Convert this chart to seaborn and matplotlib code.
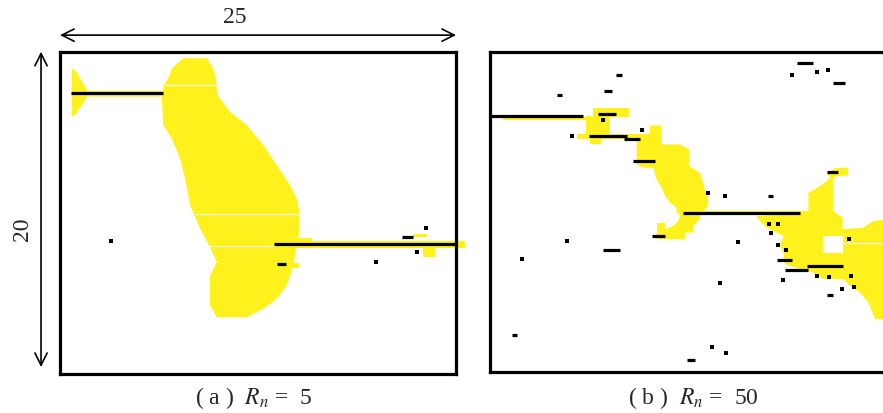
import numpy as np
import pandas as pd
import matplotlib
matplotlib.use("Agg")
import matplotlib.pyplot as plt
import seaborn as sns

# ---------------- data (domain 25 x 20) ----------------
domain_w = 25
domain_h = 20
captions = [r"( a )  $R_n$ =  5", r"( b )  $R_n$ =  50"]

# Panel (a): yellow regions (polygon vertices x, y)
a_blob_x = [7.77, 9.28, 9.66, 9.85, 9.93, 10.73, 11.78, 12.84, 13.68, 14.52, 14.94, 15.11, 15.11,
            14.94, 14.73, 14.31, 13.68, 12.84, 11.78, 9.89, 9.47, 9.47, 9.89, 9.47, 8.84,
            8.21, 7.89, 7.58, 7.05, 6.52, 6.42, 6.55, 6.82, 7.07]
a_blob_y = [19.60, 19.60, 18.97, 18.35, 17.31, 16.27, 15.44, 14.20, 12.95, 11.70, 10.87, 10.04, 8.79,
            7.96, 6.72, 5.47, 4.64, 4.02, 3.50, 3.50, 4.23, 6.09, 6.93, 7.86, 9.01,
            10.46, 12.12, 13.36, 14.61, 15.44, 17.10, 17.90, 18.35, 18.97]
a_wedge_x = [0.74, 0.95, 1.26, 1.58, 1.73, 6.52, 6.52, 1.73, 1.58, 1.26, 0.95, 0.74]
a_wedge_y = [18.91, 18.87, 18.35, 17.83, 17.56, 17.56, 17.21, 17.21, 17.00, 16.48, 16.07, 15.96]
# yellow rectangles (x0, x1, y0, y1)
a_rects = [(13.53, 25.57, 7.80, 8.21), (14.94, 15.89, 8.17, 8.42), (22.31, 23.15, 8.50, 8.65),
           (22.94, 23.67, 7.24, 7.86), (14.35, 15.11, 6.55, 6.89)]
# white gaps across blob (x0, x1, y)
a_gaps = [(6.67, 9.89, 17.93), (8.52, 15.11, 9.94), (9.47, 13.53, 7.93)]
# black segments (x0, x1, y)
a_seg_x0 = [0.67, 13.53, 21.57, 13.72]
a_seg_x1 = [6.48, 24.94, 22.31, 14.27]
a_seg_y = [17.42, 8.03, 8.50, 6.82]
a_dot_x = [23.09, 22.52, 19.93, 3.22]
a_dot_y = [9.04, 7.55, 6.91, 8.21]

# Panel (b)
b_blob1_x = [9.26, 9.26, 9.68, 10.31, 10.52, 10.84, 11.05, 11.36, 11.78, 11.78, 11.99, 11.89,
             11.57, 11.05, 10.52, 10.52, 12.31, 12.31, 12.84, 12.84, 13.26, 13.26, 13.78, 13.78,
             13.57, 13.26, 12.58, 12.58, 11.99, 10.84, 10.84, 10.10, 10.10, 9.26]
b_blob1_y = [14.52, 12.96, 12.75, 12.75, 12.02, 11.51, 10.99, 10.57, 10.26, 9.95, 9.78, 9.43,
             9.12, 8.91, 8.70, 8.29, 8.29, 8.70, 8.70, 9.12, 9.53, 9.84, 10.36, 10.99,
             11.40, 12.44, 12.86, 13.89, 14.21, 14.21, 15.39, 15.39, 14.93, 14.72]
b_blob2_x = [16.84, 20.10, 20.10, 20.83, 21.36, 21.67, 21.67, 21.67, 22.26, 22.26, 23.57, 24.20,
             25.0, 25.0, 24.31, 23.88, 23.36, 22.73, 22.31, 21.04, 20.41, 19.57, 18.62, 18.52,
             18.31, 18.52, 17.89, 17.47, 17.15, 16.84]
b_blob2_y = [9.74, 9.95, 11.19, 11.61, 12.02, 12.27, 11.61, 10.05, 9.64, 8.91, 9.01, 9.43,
             9.53, 3.30, 3.30, 4.34, 4.96, 5.38, 5.79, 5.79, 6.21, 6.42, 6.73, 7.46,
             7.87, 8.49, 8.81, 9.01, 9.33, 9.64]
b_hook_x = [21.25, 21.78, 22.62, 22.62, 21.88, 21.67]
b_hook_y = [12.34, 12.75, 12.75, 12.27, 12.23, 12.02]
b_rects = [(0.84, 6.52, 15.72, 15.94), (6.52, 8.80, 15.93, 16.49), (6.06, 7.58, 14.83, 15.97),
           (5.47, 9.89, 14.52, 14.89), (6.31, 6.99, 14.21, 14.52), (12.21, 20.20, 9.78, 10.05),
           (10.42, 11.05, 13.05, 13.20), (10.52, 11.05, 8.29, 9.30)]
b_holes = [(21.04, 22.31, 7.46, 8.49)]
b_gaps = [(22.31, 25.0, 8.04)]
b_seg_x0 = [0.0, 6.84, 6.23, 8.46, 9.01, 12.21, 10.25, 7.15, 21.25, 18.10, 18.62, 19.99,
            19.36, 21.63, 7.95, 7.20, 4.21, 12.42, 1.37, 17.57, 21.25]
b_seg_x1 = [5.85, 7.95, 8.63, 9.47, 10.42, 19.57, 11.05, 8.21, 21.99, 19.04, 20.10, 22.31,
            20.37, 22.41, 8.31, 7.68, 4.52, 12.94, 1.73, 17.89, 21.63]
b_seg_y = [15.97, 16.10, 14.75, 14.58, 13.17, 9.95, 8.52, 7.64, 12.50, 6.98, 6.38, 6.63,
           19.27, 18.05, 18.53, 17.57, 17.30, 0.75, 2.31, 10.99, 4.80]
b_dot_x = [19.04, 20.66, 21.32, 13.74, 14.84, 17.63, 18.16, 17.72, 18.20, 18.69, 22.68, 20.62,
           21.42, 22.77, 22.24, 23.00, 18.52, 14.52, 15.64, 4.86, 2.00, 13.99, 14.90, 7.15,
           5.20, 9.57]
b_dot_y = [18.57, 18.75, 18.84, 11.15, 10.99, 9.24, 9.24, 8.70, 7.93, 7.60, 8.29, 6.00,
           5.94, 6.00, 5.21, 5.32, 5.75, 5.55, 8.10, 8.17, 7.08, 1.54, 1.20, 15.74,
           14.75, 15.14]

YELLOW = "#fff21c"

# ---------------- drawing ----------------
sns.set_style("white")
plt.rcParams["font.family"] = ["Liberation Serif", "DejaVu Serif"]
plt.rcParams["mathtext.fontset"] = "stix"

fig = plt.figure(figsize=(8.83, 4.14), dpi=100)
ax_a = fig.add_axes([0.0680, 0.0954, 0.4485, 0.7773])
ax_b = fig.add_axes([0.5549, 0.0990, 0.4485, 0.7737])


def setup(ax):
    ax.set_xlim(0, domain_w)
    ax.set_ylim(0, domain_h)
    ax.set_xticks([])
    ax.set_yticks([])
    for s in ax.spines.values():
        s.set_visible(True)
        s.set_color("black")
        s.set_linewidth(2.3)
        s.set_zorder(10)


def draw_rects(ax, rects, color):
    for x0, x1, y0, y1 in rects:
        ax.fill([x0, x1, x1, x0], [y0, y0, y1, y1], color=color, lw=0, clip_on=False)


def draw_segments(ax, x0, x1, y):
    df = pd.DataFrame({"x0": x0, "x1": x1, "y": y})
    ax.hlines(df["y"], df["x0"], df["x1"], color="black", lw=2.3, zorder=5)


def draw_dots(ax, x, y):
    df = pd.DataFrame({"x": x, "y": y})
    sns.scatterplot(data=df, x="x", y="y", ax=ax, marker="s", s=9, color="black",
                    linewidth=0, zorder=6, legend=False)


# panel (a)
setup(ax_a)
ax_a.fill(a_blob_x, a_blob_y, color=YELLOW, lw=0)
ax_a.fill(a_wedge_x, a_wedge_y, color=YELLOW, lw=0)
draw_rects(ax_a, a_rects, YELLOW)
for x0, x1, y in a_gaps:
    ax_a.hlines(y, x0, x1, color="white", lw=0.8, zorder=3)
draw_segments(ax_a, a_seg_x0, a_seg_x1, a_seg_y)
draw_dots(ax_a, a_dot_x, a_dot_y)
ax_a.set_xlabel("")
ax_a.set_ylabel("")

# dimension arrows
ax_a.annotate("", xy=(0.0, 21.03), xytext=(domain_w, 21.03),
              arrowprops=dict(arrowstyle="<->", lw=1.2, color="black",
                              shrinkA=0, shrinkB=0, mutation_scale=22),
              annotation_clip=False)
ax_a.text(domain_w / 2 - 1.45, 22.2, str(domain_w), ha="center", va="center", fontsize=17)
ax_a.annotate("", xy=(-1.2, 20.0), xytext=(-1.2, 0.4),
              arrowprops=dict(arrowstyle="<->", lw=1.2, color="black",
                              shrinkA=0, shrinkB=0, mutation_scale=22),
              annotation_clip=False)
ax_a.text(-2.4, 9.0, str(domain_h), ha="center", va="center", fontsize=17, rotation=90)

# panel (b)
setup(ax_b)
ax_b.fill(b_blob1_x, b_blob1_y, color=YELLOW, lw=0)
ax_b.fill(b_blob2_x, b_blob2_y, color=YELLOW, lw=0)
ax_b.fill(b_hook_x, b_hook_y, color=YELLOW, lw=0)
draw_rects(ax_b, b_rects, YELLOW)
draw_rects(ax_b, b_holes, "white")
for x0, x1, y in b_gaps:
    ax_b.hlines(y, x0, x1, color="white", lw=0.8, zorder=3)
draw_segments(ax_b, b_seg_x0, b_seg_x1, b_seg_y)
draw_dots(ax_b, b_dot_x, b_dot_y)
ax_b.set_xlabel("")
ax_b.set_ylabel("")

fig.text(0.287, 0.038, captions[0], ha="center", va="center", fontsize=17)
fig.text(0.785, 0.038, captions[1], ha="center", va="center", fontsize=17)

fig.savefig("out.png", dpi=100)
